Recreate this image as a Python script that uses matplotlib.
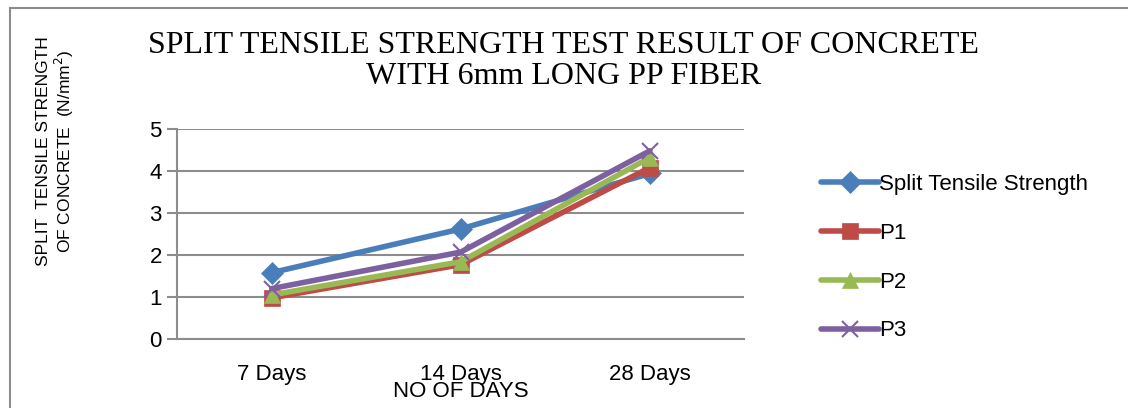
import matplotlib.pyplot as plt
import numpy as np

days = ['7 Days', '14 Days', '28 Days']
split_strength = [1.58, 2.62, 3.94]
p1 = [0.98, 1.77, 4.08]
p2 = [1.05, 1.84, 4.32]
p3 = [1.20, 2.07, 4.48]
y_ticks = [0, 1, 2, 3, 4, 5]

plt.rcParams['font.family'] = ['Liberation Sans', 'DejaVu Sans']

fig = plt.figure(figsize=(11.28, 4.08), dpi=100)
ax = fig.add_axes([0.157, 0.169, 0.503, 0.515])

x = np.arange(len(days))
series = [
  ('Split Tensile Strength', split_strength, '#4a7ebb', 'D', 11),
  ('P1', p1, '#be4b48', 's', 11),
  ('P2', p2, '#98b954', '^', 12),
  ('P3', p3, '#7d60a0', 'x', 12),
]
for name, vals, col, mk, ms in series:
  ax.plot(x, vals, color=col, lw=4, marker=mk, markersize=ms,
          markeredgewidth=1.5 if mk == 'x' else 0.5, markeredgecolor=col,
          markerfacecolor=col, label=name, solid_capstyle='round')

ax.set_xlim(-0.5, 2.5)
ax.set_ylim(0, 5)
ax.set_yticks(y_ticks)
ax.set_xticks(x)
ax.set_xticklabels(days)
ax.yaxis.grid(True, color='#8c8c8c', lw=1.5)
ax.set_axisbelow(True)
for s in ['top', 'right']:
  ax.spines[s].set_visible(False)
for s in ['left', 'bottom']:
  ax.spines[s].set_color('#8c8c8c')
  ax.spines[s].set_linewidth(1.5)
ax.tick_params(axis='y', length=7, width=1.5, color='#8c8c8c', labelsize=16, pad=4)
ax.tick_params(axis='x', length=0, labelsize=16, pad=18)

ax.set_xlabel('NO OF DAYS', fontsize=16, labelpad=-3)

fig.text(0.050, 0.63, 'SPLIT  TENSILE STRENGTH\nOF CONCRETE  (N/mm$^2$)', rotation=90,
         ha='center', va='center', fontsize=12.5, linespacing=1.1, multialignment='center')

fig.text(0.5, 0.925, 'SPLIT TENSILE STRENGTH TEST RESULT OF CONCRETE\nWITH 6mm LONG PP FIBER',
         ha='center', va='top', fontsize=23, family='Liberation Serif', linespacing=1.13)

leg = ax.legend(loc='upper left', bbox_to_anchor=(1.10, 0.88), frameon=False,
                fontsize=16, handlelength=2.6, handletextpad=0.0, labelspacing=1.25)

# outer frame
fig.add_artist(plt.Rectangle((0.009, -0.05), 1.2, 1.03, transform=fig.transFigure,
                             fill=False, edgecolor='#8c8c8c', lw=1.5))

fig.savefig('out.png', dpi=100)
